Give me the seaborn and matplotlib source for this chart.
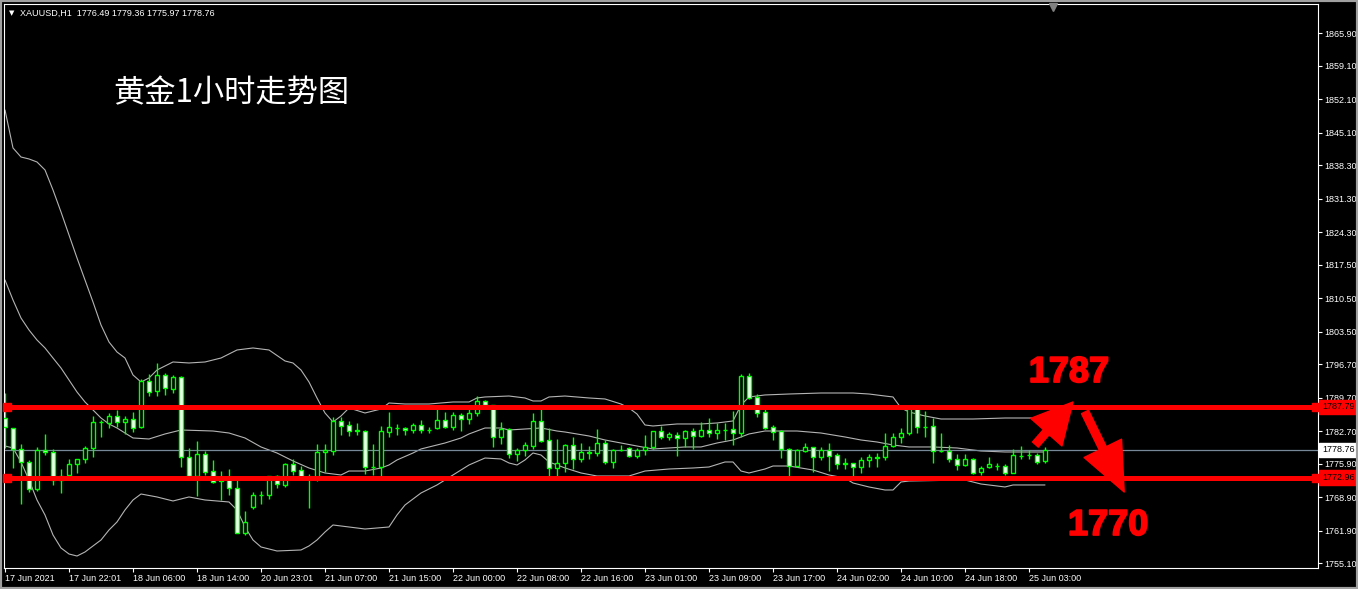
import numpy as np
import pandas as pd
import matplotlib
matplotlib.use("Agg")
import matplotlib.pyplot as plt
import matplotlib.transforms as mtransforms
import matplotlib.patheffects as pe
from matplotlib.patches import Rectangle
import seaborn as sns

# ---------------- data ----------------
symbol = "XAUUSD,H1"
title = "黄金1小时走势图"

opens = [1785.39, 1783.29, 1778.90, 1776.18, 1770.53, 1778.76, 1778.27, 1772.49, 1773.46, 1775.76,
         1776.81, 1779.11, 1784.55, 1784.48, 1785.80, 1784.55, 1785.18, 1783.64, 1793.13, 1791.10,
         1794.45, 1791.59, 1793.96, 1777.37, 1773.39, 1777.85, 1774.30, 1772.21, 1773.04, 1770.74,
         1761.47, 1766.91, 1769.35, 1769.42, 1773.25, 1771.51, 1775.76, 1774.51, 1773.04, 1773.18,
         1778.27, 1778.62, 1784.76, 1783.92, 1782.88, 1782.74, 1775.14, 1775.27, 1782.60, 1783.43,
         1783.29, 1782.88, 1783.92, 1782.95, 1783.43, 1784.97, 1783.64, 1786.01, 1785.32, 1786.43,
         1788.94, 1788.11, 1781.41, 1783.09, 1777.85, 1778.76, 1779.67, 1784.83, 1780.85, 1775.07,
         1775.97, 1779.81, 1776.81, 1778.27, 1778.20, 1780.23, 1776.32, 1778.76, 1779.11, 1777.58,
         1778.69, 1779.32, 1782.74, 1781.55, 1781.90, 1781.34, 1782.74, 1781.76, 1782.95, 1782.39,
         1782.95, 1783.09, 1782.39, 1794.24, 1789.85, 1786.64, 1783.57, 1782.74, 1778.90, 1775.41,
         1778.62, 1779.32, 1777.37, 1778.69, 1777.65, 1775.90, 1775.97, 1775.14, 1776.60, 1777.23,
         1777.23, 1779.67, 1781.41, 1782.25, 1787.48, 1783.50, 1783.71, 1778.55, 1778.55, 1776.81,
         1775.55, 1776.81, 1774.09, 1775.14, 1775.41, 1775.41, 1774.02, 1777.51, 1777.65, 1777.79,
         1776.49]
highs = [1790.62, 1783.43, 1779.95, 1776.67, 1779.32, 1782.11, 1778.90, 1774.79, 1776.88, 1776.88,
         1779.60, 1785.87, 1785.04, 1786.43, 1787.13, 1785.87, 1786.71, 1793.55, 1794.66, 1796.89,
         1794.80, 1794.45, 1794.24, 1779.11, 1780.64, 1778.62, 1776.67, 1774.37, 1774.79, 1772.69,
         1766.00, 1769.91, 1770.18, 1773.32, 1773.53, 1775.97, 1776.88, 1775.41, 1773.74, 1780.02,
         1780.02, 1785.60, 1785.74, 1784.83, 1784.34, 1782.95, 1780.02, 1783.78, 1786.78, 1784.20,
         1783.64, 1784.34, 1785.04, 1783.64, 1787.83, 1786.78, 1786.78, 1786.43, 1787.34, 1790.13,
         1789.22, 1788.18, 1784.62, 1783.29, 1779.11, 1780.44, 1786.57, 1787.62, 1783.29, 1781.06,
         1779.95, 1781.41, 1780.16, 1779.60, 1783.15, 1780.85, 1778.90, 1779.81, 1779.46, 1779.11,
         1781.90, 1782.81, 1783.78, 1782.46, 1782.46, 1782.95, 1783.29, 1784.62, 1785.39, 1784.34,
         1784.34, 1786.92, 1794.66, 1794.80, 1790.41, 1787.69, 1783.99, 1782.95, 1779.11, 1778.90,
         1780.16, 1779.46, 1779.32, 1780.16, 1778.20, 1777.02, 1775.97, 1777.23, 1777.92, 1778.20,
         1782.25, 1782.25, 1783.29, 1787.62, 1787.97, 1786.92, 1785.39, 1782.25, 1779.81, 1777.92,
         1777.92, 1777.02, 1775.41, 1777.37, 1775.97, 1775.90, 1778.97, 1779.60, 1778.76, 1778.20,
         1779.36]
lows = [1779.11, 1774.93, 1767.39, 1770.04, 1770.25, 1777.72, 1771.44, 1769.70, 1773.32, 1773.88,
        1775.97, 1777.23, 1781.41, 1783.29, 1783.64, 1782.11, 1782.60, 1783.43, 1790.13, 1790.13,
        1790.27, 1790.62, 1775.27, 1772.62, 1769.21, 1773.53, 1771.93, 1768.30, 1769.35, 1761.33,
        1760.98, 1766.42, 1767.46, 1768.51, 1770.74, 1771.09, 1773.53, 1772.69, 1766.70, 1772.35,
        1774.23, 1777.72, 1781.90, 1781.69, 1781.90, 1773.81, 1773.53, 1773.39, 1781.55, 1781.90,
        1781.90, 1782.39, 1782.39, 1782.25, 1783.15, 1783.43, 1782.95, 1782.74, 1784.20, 1785.94,
        1787.62, 1779.46, 1780.02, 1777.16, 1776.53, 1777.51, 1778.90, 1780.37, 1772.49, 1773.04,
        1774.23, 1774.72, 1776.32, 1776.88, 1777.51, 1775.83, 1775.07, 1778.55, 1777.37, 1777.16,
        1777.72, 1778.90, 1781.13, 1780.85, 1777.51, 1779.32, 1779.04, 1781.55, 1781.55, 1780.99,
        1780.85, 1779.81, 1781.55, 1789.36, 1785.74, 1783.09, 1780.85, 1777.02, 1773.18, 1775.27,
        1778.41, 1774.23, 1776.67, 1774.37, 1774.79, 1774.79, 1773.04, 1773.88, 1775.14, 1775.14,
        1776.67, 1779.32, 1780.30, 1781.83, 1782.25, 1781.55, 1775.97, 1778.27, 1776.32, 1774.58,
        1775.48, 1773.74, 1773.53, 1775.07, 1774.58, 1773.53, 1773.88, 1776.88, 1776.88, 1775.83,
        1775.97]
closes = [1783.50, 1778.90, 1776.18, 1770.60, 1778.76, 1778.27, 1772.49, 1773.32, 1775.76, 1776.88,
          1779.11, 1784.55, 1784.62, 1785.80, 1784.55, 1785.18, 1783.43, 1793.13, 1790.97, 1794.38,
          1791.66, 1793.96, 1777.37, 1773.39, 1777.85, 1774.23, 1772.14, 1773.04, 1770.74, 1761.47,
          1763.63, 1769.35, 1769.42, 1773.25, 1771.58, 1775.76, 1774.44, 1773.04, 1773.18, 1778.27,
          1778.76, 1784.76, 1783.85, 1782.81, 1782.74, 1775.14, 1775.27, 1782.74, 1783.50, 1783.36,
          1782.88, 1783.92, 1782.95, 1783.02, 1785.04, 1783.64, 1786.01, 1785.32, 1786.43, 1788.94,
          1788.11, 1781.41, 1783.09, 1777.85, 1778.76, 1779.74, 1784.83, 1780.64, 1775.07, 1775.97,
          1779.81, 1776.81, 1778.27, 1778.20, 1780.23, 1776.32, 1778.76, 1778.69, 1777.58, 1778.76,
          1779.32, 1782.74, 1781.55, 1782.11, 1781.34, 1782.74, 1781.76, 1782.95, 1782.39, 1782.95,
          1782.88, 1782.39, 1794.24, 1789.71, 1786.57, 1783.43, 1782.60, 1778.90, 1775.41, 1778.76,
          1779.32, 1777.37, 1778.76, 1777.58, 1775.90, 1775.97, 1775.14, 1776.67, 1777.23, 1777.16,
          1779.67, 1781.41, 1782.25, 1787.48, 1783.50, 1783.64, 1778.55, 1778.62, 1776.81, 1775.62,
          1776.81, 1773.88, 1775.00, 1775.76, 1775.48, 1774.02, 1777.65, 1777.58, 1777.72, 1776.32,
          1778.76]

# Bollinger bands (candle index, price)
upper_idx = [0, 1, 2, 3, 4, 5, 6, 7, 8, 9, 10, 11, 12, 13, 14, 15, 16, 17, 18, 19,
             21, 23, 25, 27, 29, 31, 33, 35, 36, 37, 38, 39, 40, 41, 42, 43,
             45, 47, 48, 50, 53, 56, 58, 59, 60, 63,
             65, 66, 67, 68, 70, 73, 75, 77, 78, 79, 80, 81, 84, 87, 89, 91, 92, 93, 95, 98,
             102, 106, 108, 110, 111, 112, 113, 115, 117, 121, 125, 130]
upper_vals = [1849.89, 1841.94, 1840.05, 1839.64, 1839.01, 1837.34, 1833.15, 1828.55, 1823.74, 1818.93,
              1814.32, 1809.72, 1804.91, 1801.35, 1799.26, 1798.00, 1794.45, 1792.98, 1793.82, 1795.49,
              1797.17, 1796.96, 1797.17, 1798.00, 1799.68, 1800.10, 1799.68, 1797.38,
              1796.96, 1795.49, 1792.98, 1789.64, 1786.50, 1784.62, 1785.87, 1787.55,
              1786.50, 1787.33, 1788.59, 1788.38, 1788.38, 1788.80, 1788.80, 1789.64, 1789.85, 1790.05,
              1789.64, 1789.01, 1789.01, 1789.85, 1790.05, 1789.64, 1789.43, 1788.38, 1787.54, 1786.29,
              1783.99, 1783.78, 1784.20, 1784.20, 1784.41, 1784.83, 1788.17, 1789.85, 1790.27, 1790.47,
              1790.68, 1790.68, 1790.47, 1790.05, 1789.85, 1787.55, 1786.71, 1785.87, 1785.24, 1785.24,
              1785.45, 1785.45]
middle_idx = [0, 1, 2, 3, 4, 5, 6, 7, 8, 9, 10, 11, 12, 13, 14, 15, 16,
              18, 20, 22, 26, 28, 30, 32, 34, 36, 38, 40, 42,
              43, 45, 47, 48, 49, 51, 52, 53, 55, 57, 58, 60, 62, 63, 65, 67, 69, 70,
              73, 75, 77, 79, 81, 83, 85, 87, 89, 91, 93, 95, 99,
              102, 105, 107, 109, 111, 113, 116, 119, 122, 125, 130]
middle_vals = [1814.32, 1810.14, 1806.37, 1803.86, 1801.77, 1800.10, 1798.00, 1795.91, 1793.40, 1790.89,
               1788.80, 1787.13, 1785.45, 1784.20, 1783.36, 1782.31, 1781.27,
               1781.06, 1782.11, 1782.94, 1782.73, 1782.31, 1781.27, 1779.39, 1778.13, 1776.46, 1774.99,
               1773.95, 1773.53,
               1774.36, 1774.36, 1774.99, 1775.62, 1776.67, 1778.13, 1778.97, 1779.39, 1780.22, 1781.27,
               1782.11, 1783.36, 1783.36, 1782.94, 1783.15, 1783.36, 1782.73, 1782.52,
               1781.69, 1780.85, 1780.22, 1779.59, 1778.97, 1779.18, 1779.39, 1779.39, 1780.22, 1780.85,
               1782.11, 1782.73, 1782.73,
               1782.31, 1781.48, 1780.85, 1780.43, 1779.80, 1779.39, 1779.39, 1779.18, 1778.55, 1778.34,
               1778.34]
lower_idx = [0, 1, 2, 3, 4, 5, 6, 7, 8, 9, 10, 11, 12, 13, 14, 15, 16, 17,
             19, 21, 23, 25, 28, 29, 30, 31, 32, 34,
             37, 38, 39, 40, 41, 43, 45, 48, 49, 50,
             52, 54, 56, 58, 60, 62, 63, 64, 65, 66, 67, 68, 70, 72, 74,
             78, 80, 83, 86, 88, 90, 91, 92, 93, 95, 96, 98,
             101, 103, 105, 106, 108, 110, 111, 112, 113, 120, 122, 124, 125, 126, 130]
lower_vals = [1779.59, 1779.18, 1776.25, 1772.48, 1768.30, 1765.16, 1760.98, 1758.26, 1757.00, 1756.58,
              1757.42, 1758.68, 1759.93, 1762.02, 1763.70, 1766.21, 1768.30, 1769.55,
              1768.93, 1768.09, 1768.93, 1768.30, 1767.88, 1766.21, 1762.65, 1759.93, 1758.47, 1757.63,
              1757.84, 1758.68, 1759.93, 1761.60, 1763.07, 1762.65, 1762.23, 1762.65, 1765.16, 1767.25,
              1769.76, 1771.44, 1773.53, 1775.62, 1777.08, 1776.88, 1776.04, 1775.62, 1776.67, 1778.13,
              1777.71, 1776.25, 1775.00, 1773.95, 1773.32,
              1773.32, 1774.36, 1774.78, 1774.99, 1775.20, 1776.25, 1776.25, 1774.36, 1773.95, 1774.78,
              1775.41, 1775.41,
              1774.57, 1773.53, 1772.90, 1771.85, 1771.02, 1770.39, 1770.39, 1772.06, 1772.27, 1772.48,
              1771.64, 1771.23, 1771.02, 1771.44, 1771.44]

time_labels = ["17 Jun 2021", "17 Jun 22:01", "18 Jun 06:00", "18 Jun 14:00", "20 Jun 23:01",
               "21 Jun 07:00", "21 Jun 15:00", "22 Jun 00:00", "22 Jun 08:00", "22 Jun 16:00",
               "23 Jun 01:00", "23 Jun 09:00", "23 Jun 17:00", "24 Jun 02:00", "24 Jun 10:00",
               "24 Jun 18:00", "25 Jun 03:00"]
label_step = 8
price_ticks = [1865.90, 1859.10, 1852.10, 1845.10, 1838.30, 1831.30, 1824.30, 1817.50, 1810.50,
               1803.50, 1796.70, 1789.70, 1782.70, 1775.90, 1768.90, 1761.90, 1755.10]

resistance = 1787.79
support = 1772.96
bid = 1778.76
target_up = "1787"
target_down = "1770"

# ---------------- style ----------------
sns.set_theme(style="dark", rc={"axes.facecolor": "black", "figure.facecolor": "black",
                                "axes.grid": False})
plt.rcParams['font.family'] = ['Liberation Sans', 'DejaVu Sans']

W, H = 1358, 589
fig = plt.figure(figsize=(W / 100, H / 100), dpi=100)
fig.patch.set_facecolor('black')
ax = fig.add_axes([4 / W, 21 / H, 1314 / W, 564 / H])
ax.set_facecolor('black')

# bands
bands = pd.concat([
    pd.DataFrame({'idx': upper_idx, 'price': upper_vals, 'band': 'upper'}),
    pd.DataFrame({'idx': middle_idx, 'price': middle_vals, 'band': 'middle'}),
    pd.DataFrame({'idx': lower_idx, 'price': lower_vals, 'band': 'lower'}),
], ignore_index=True)
sns.lineplot(data=bands, x='idx', y='price', units='band', estimator=None, sort=False,
             color='#b4b4b4', linewidth=0.8, ax=ax, legend=False, zorder=1)

ax.axhline(bid, color='#778899', lw=0.9, zorder=1.5)

# candles
o = np.array(opens)
h = np.array(highs)
l = np.array(lows)
c = np.array(closes)
x = np.arange(len(o))
bear = c < o
ax.vlines(x, l, h, color='#00ff00', lw=1, zorder=2)
ax.bar(x, np.maximum(np.abs(c - o), 0.02), bottom=np.minimum(o, c), width=0.62,
       color=np.where(bear, 'white', 'black'), edgecolor='#00ff00', linewidth=1, zorder=3)

# support / resistance
blend = mtransforms.blended_transform_factory(ax.transAxes, ax.transData)
for lvl in (resistance, support):
    ax.axhline(lvl, color='#ff0000', lw=3.6, zorder=4)
    ax.plot([0.0023, 0.9985], [lvl, lvl], 's', ms=6, color='#ff0000', transform=blend,
            clip_on=False, zorder=5)
    ax.text(1.0 + 4 / 1314, lvl, f"{lvl:.2f}", transform=blend, ha='left', va='center',
            fontsize=6.5, color='black', clip_on=False, zorder=6,
            bbox=dict(boxstyle='square,pad=0.3', fc='#ff0000', ec='#ff0000'))
ax.text(1.0 + 4 / 1314, bid, f"{bid:.2f}", transform=blend, ha='left', va='center',
        fontsize=6.5, color='black', clip_on=False, zorder=6,
        bbox=dict(boxstyle='square,pad=0.3', fc='white', ec='white'))

# arrows and targets
arrow_up = dict(arrowstyle='simple,head_length=2.9,head_width=3.0,tail_width=0.56',
                color='#ff0000', shrinkA=0, shrinkB=0, mutation_scale=10)
arrow_down = dict(arrowstyle='simple,head_length=3.5,head_width=3.0,tail_width=0.56',
                  color='#ff0000', shrinkA=0, shrinkB=0, mutation_scale=10)
ax.annotate('', xy=(133.5, 1788.80), xytext=(128.8, 1779.90), arrowprops=arrow_up, zorder=7)
ax.annotate('', xy=(139.9, 1769.97), xytext=(135.0, 1786.71), arrowprops=arrow_down, zorder=7)
heavy = [pe.withStroke(linewidth=1.3, foreground='#ff0000')]
ax.text(133.0, 1792.98, target_up, color='#ff0000', fontsize=26, fontweight='bold',
        ha='center', va='baseline', zorder=7, path_effects=heavy)
ax.text(137.9, 1760.98, target_down, color='#ff0000', fontsize=26, fontweight='bold',
        ha='center', va='baseline', zorder=7, path_effects=heavy)

# axes
ax.set_xlim(-0.125, 164.125)
ax.set_ylim(1754.07, 1872.06)
ax.set_xlabel('')
ax.set_ylabel('')
tick_pos = np.arange(len(time_labels)) * label_step
ax.set_xticks(tick_pos, time_labels)
for t in ax.get_xticklabels():
    t.set_ha('left')
ax.yaxis.tick_right()
ax.set_yticks(price_ticks, [f"{p:.2f}" for p in price_ticks])
ax.tick_params(axis='both', colors='white', labelcolor='white', labelsize=6.5,
               length=3, width=0.8, direction='out', pad=1.5)
ax.tick_params(axis='x', bottom=True, pad=1.5)
ax.tick_params(axis='y', right=True, left=False)
for s in ax.spines.values():
    s.set_color('white')
    s.set_linewidth(0.8)
    s.set_visible(True)

# header and title
ax.plot([(1053 - 4) / 1314], [0.9947], 'v', ms=6, color='#808080', transform=ax.transAxes,
        clip_on=False, zorder=8)
fig.text(12 / W, 1 - 13 / H, "▼", color='white', fontsize=5, ha='center', va='center',
         family='DejaVu Sans')
fig.text(20 / W, 1 - 13 / H, f"{symbol}  {opens[-1]:.2f} {highs[-1]:.2f} {lows[-1]:.2f} {closes[-1]:.2f}",
         color='white', fontsize=6.5, ha='left', va='center')
fig.text(113 / W, 1 - 93 / H, title, color='white', fontsize=22.5, ha='left', va='center',
         family=['Noto Sans CJK SC', 'DejaVu Sans'])

fig.add_artist(Rectangle((0, 0), 1, 1, transform=fig.transFigure, fill=False,
                         ec='#a0a0a0', lw=3))

fig.savefig('out.png', dpi=100, facecolor='black')
